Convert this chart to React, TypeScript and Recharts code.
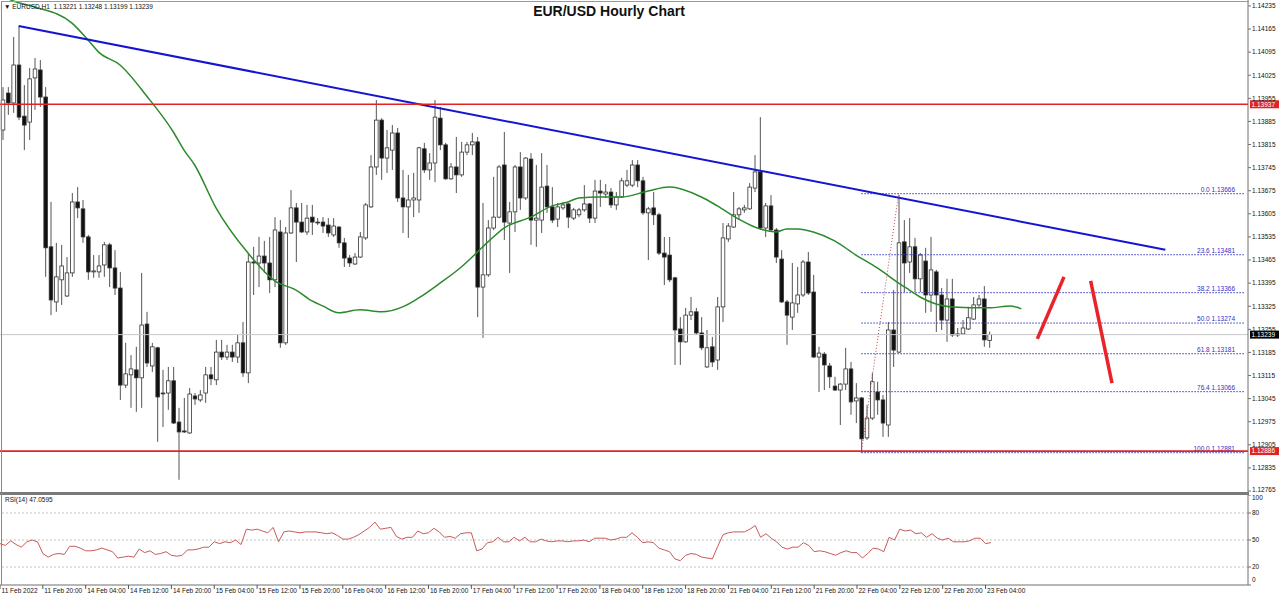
import React from 'react';
import { ComposedChart, LineChart, Bar, Line, XAxis, YAxis, ReferenceLine } from 'recharts';

const opens = [
  1.13859, 1.13971, 1.13941, 1.14056, 1.13901, 1.13883, 1.14017, 1.14041, 1.13959, 1.13505,
  1.13338, 1.13405, 1.13356, 1.13426, 1.13641, 1.1362, 1.13535, 1.13429, 1.13429, 1.1345,
  1.13511, 1.13441, 1.1338, 1.13086, 1.13117, 1.13132, 1.13108, 1.13271, 1.13144, 1.13199,
  1.13062, 1.13062, 1.13099, 1.12974, 1.12947, 1.12941, 1.13053, 1.13041, 1.13062, 1.13117,
  1.13102, 1.13186, 1.13171, 1.13186, 1.13171, 1.13214, 1.13123, 1.13459, 1.13456, 1.13477,
  1.13456, 1.13405, 1.1355, 1.13214, 1.13547, 1.13623, 1.1358, 1.1355, 1.13595, 1.1358,
  1.1358, 1.13571, 1.13541, 1.13565, 1.13517, 1.13471, 1.13453, 1.13474, 1.13532, 1.13626,
  1.13747, 1.13889, 1.13774, 1.13798, 1.1385, 1.13653, 1.13626, 1.13647, 1.13647, 1.13802,
  1.13738, 1.13759, 1.13895, 1.13814, 1.13711, 1.13747, 1.13723, 1.13792, 1.13814, 1.13823,
  1.13383, 1.1342, 1.13562, 1.13595, 1.13753, 1.13577, 1.13611, 1.13747, 1.13653, 1.13771,
  1.13586, 1.13586, 1.13689, 1.13626, 1.13589, 1.13623, 1.13635, 1.13592, 1.13602, 1.13617,
  1.13635, 1.13592, 1.13674, 1.13665, 1.13671, 1.13632, 1.13656, 1.13692, 1.13692, 1.13753,
  1.13705, 1.13608, 1.13623, 1.13602, 1.13486, 1.1348, 1.13411, 1.13256, 1.13217, 1.13298,
  1.13308, 1.13244, 1.13141, 1.13202, 1.13162, 1.13323, 1.13529, 1.13565, 1.13602, 1.13617,
  1.1362, 1.13683, 1.13732, 1.13562, 1.13629, 1.13556, 1.13468, 1.13338, 1.13292, 1.13332,
  1.13359, 1.13459, 1.13368, 1.13171, 1.1318, 1.13144, 1.13083, 1.13071, 1.13089, 1.13135,
  1.13038, 1.13047, 1.12926, 1.12986, 1.13065, 1.13041, 1.12965, 1.13253, 1.13186, 1.1352,
  1.13459, 1.13505, 1.13408, 1.13462, 1.13359, 1.13429, 1.13359, 1.13283, 1.13347, 1.13241,
  1.13241, 1.13256, 1.13286, 1.13329, 1.13347, 1.13221,
];

const highs = [
  1.13989, 1.13989, 1.14141, 1.14174, 1.13995, 1.14047, 1.14077, 1.14071, 1.13989, 1.13641,
  1.13517, 1.13511, 1.13474, 1.13668, 1.13686, 1.13647, 1.13541, 1.1348, 1.1348, 1.1352,
  1.13517, 1.13495, 1.13429, 1.13214, 1.13177, 1.13202, 1.13426, 1.13308, 1.13214, 1.13202,
  1.13132, 1.13141, 1.13141, 1.13017, 1.13047, 1.13077, 1.13062, 1.13071, 1.13141, 1.13141,
  1.13223, 1.13223, 1.13208, 1.13208, 1.13238, 1.13277, 1.13486, 1.13505, 1.13535, 1.13523,
  1.13535, 1.13595, 1.13586, 1.13565, 1.13677, 1.13638, 1.13638, 1.13632, 1.13632, 1.13592,
  1.13595, 1.13592, 1.13592, 1.13568, 1.13532, 1.1348, 1.13486, 1.1355, 1.13638, 1.13783,
  1.1395, 1.13895, 1.13859, 1.13874, 1.13865, 1.13738, 1.13723, 1.13729, 1.13808, 1.1382,
  1.13789, 1.1395, 1.13929, 1.1382, 1.13759, 1.13838, 1.13823, 1.13823, 1.1385, 1.13838,
  1.13638, 1.13586, 1.13717, 1.13753, 1.13853, 1.13641, 1.13753, 1.13792, 1.13777, 1.13789,
  1.13753, 1.13789, 1.13753, 1.13686, 1.13638, 1.13641, 1.13638, 1.13623, 1.13623, 1.13692,
  1.13638, 1.13708, 1.13708, 1.13695, 1.13683, 1.13671, 1.13714, 1.13738, 1.13768, 1.13768,
  1.13717, 1.13626, 1.13671, 1.13608, 1.13535, 1.13535, 1.13414, 1.13292, 1.1332, 1.13353,
  1.1332, 1.13292, 1.13253, 1.13232, 1.13353, 1.13577, 1.13577, 1.13671, 1.13626, 1.13632,
  1.13698, 1.13783, 1.13898, 1.13638, 1.13662, 1.13562, 1.13495, 1.13344, 1.13456, 1.13444,
  1.13465, 1.13489, 1.1342, 1.13202, 1.13186, 1.13153, 1.13111, 1.13092, 1.13199, 1.13156,
  1.13092, 1.1305, 1.13026, 1.13123, 1.13096, 1.13056, 1.13277, 1.13374, 1.13662, 1.13586,
  1.13592, 1.13532, 1.13486, 1.13502, 1.13535, 1.13435, 1.1338, 1.13408, 1.13408, 1.13259,
  1.13283, 1.13323, 1.13353, 1.13359, 1.13386, 1.13248,
];

const lows = [
  1.13829, 1.13905, 1.13911, 1.13889, 1.13798, 1.13829, 1.1392, 1.13929, 1.13414, 1.13298,
  1.13308, 1.13329, 1.13353, 1.13414, 1.13592, 1.13517, 1.13405, 1.13411, 1.13411, 1.13414,
  1.13383, 1.13359, 1.13041, 1.13077, 1.13017, 1.13005, 1.13017, 1.13141, 1.13126, 1.12914,
  1.12959, 1.13011, 1.12968, 1.12799, 1.12941, 1.12938, 1.13026, 1.13035, 1.13032, 1.13086,
  1.13086, 1.13162, 1.13162, 1.13156, 1.13153, 1.13111, 1.13092, 1.13359, 1.13383, 1.13426,
  1.13365, 1.13383, 1.13199, 1.13208, 1.13544, 1.13459, 1.13547, 1.13541, 1.13541, 1.13571,
  1.13547, 1.13535, 1.13535, 1.13502, 1.13444, 1.13444, 1.1345, 1.13471, 1.13526, 1.13623,
  1.13723, 1.13708, 1.13729, 1.13738, 1.13641, 1.13547, 1.13532, 1.13595, 1.13608, 1.13729,
  1.13708, 1.13701, 1.13798, 1.13708, 1.13708, 1.13668, 1.13717, 1.13783, 1.13783, 1.13292,
  1.13229, 1.13414, 1.13556, 1.13592, 1.13526, 1.13426, 1.1355, 1.13617, 1.13647, 1.13511,
  1.13505, 1.13547, 1.13608, 1.13577, 1.13565, 1.13617, 1.13562, 1.13586, 1.13595, 1.13611,
  1.13577, 1.13577, 1.13626, 1.13653, 1.13623, 1.13617, 1.13653, 1.13686, 1.13686, 1.13686,
  1.13602, 1.13465, 1.13571, 1.1348, 1.13389, 1.13398, 1.13147, 1.13147, 1.13214, 1.13283,
  1.13238, 1.13192, 1.13138, 1.13141, 1.13132, 1.13277, 1.1352, 1.13562, 1.13586, 1.13608,
  1.13617, 1.13671, 1.13556, 1.13535, 1.1355, 1.13456, 1.13335, 1.13208, 1.13253, 1.13305,
  1.13353, 1.13359, 1.13168, 1.13065, 1.13071, 1.13077, 1.13068, 1.12965, 1.13071, 1.12996,
  1.12971, 1.12883, 1.1292, 1.1298, 1.12996, 1.12929, 1.12929, 1.13141, 1.13183, 1.13368,
  1.13426, 1.13368, 1.13368, 1.13305, 1.13308, 1.13247, 1.13253, 1.13217, 1.13232, 1.13232,
  1.13238, 1.13253, 1.13283, 1.13323, 1.13202, 1.13199,
];

const closes = [
  1.1395, 1.13941, 1.14056, 1.13898, 1.13874, 1.14014, 1.14044, 1.13959, 1.13502, 1.13344,
  1.13414, 1.13447, 1.13426, 1.13641, 1.13623, 1.13535, 1.13429, 1.13432, 1.13447, 1.13511,
  1.13441, 1.1338, 1.13086, 1.1312, 1.13135, 1.13108, 1.13268, 1.13153, 1.13202, 1.1305,
  1.13061, 1.13099, 1.12971, 1.12944, 1.12944, 1.13059, 1.13044, 1.13056, 1.13117, 1.13105,
  1.13186, 1.13171, 1.13186, 1.13171, 1.13214, 1.13123, 1.13459, 1.13456, 1.13477, 1.13456,
  1.13405, 1.13556, 1.13214, 1.13547, 1.13623, 1.1358, 1.1355, 1.13592, 1.1358, 1.13579,
  1.13568, 1.13547, 1.13568, 1.13517, 1.13471, 1.13456, 1.13474, 1.13535, 1.13632, 1.13747,
  1.13889, 1.13774, 1.13805, 1.1385, 1.13653, 1.13626, 1.13647, 1.13653, 1.13805, 1.13738,
  1.13759, 1.13898, 1.13814, 1.13711, 1.13747, 1.13723, 1.13792, 1.13814, 1.13823, 1.13383,
  1.1342, 1.13562, 1.13595, 1.13747, 1.1358, 1.13611, 1.13747, 1.13653, 1.13774, 1.13586,
  1.13592, 1.13686, 1.13626, 1.13586, 1.13626, 1.13632, 1.13595, 1.13617, 1.13617, 1.13635,
  1.13592, 1.13674, 1.13668, 1.13671, 1.13632, 1.13656, 1.13705, 1.13705, 1.13753, 1.13705,
  1.13608, 1.1362, 1.13602, 1.13486, 1.13474, 1.13405, 1.13253, 1.13217, 1.13298, 1.13308,
  1.13244, 1.13199, 1.13199, 1.13156, 1.13323, 1.13532, 1.13568, 1.13602, 1.1362, 1.13623,
  1.13686, 1.13732, 1.13562, 1.13629, 1.13556, 1.13474, 1.13338, 1.13298, 1.13335, 1.13359,
  1.13459, 1.13365, 1.13171, 1.13183, 1.13147, 1.13111, 1.13071, 1.13089, 1.13135, 1.13035,
  1.13047, 1.12923, 1.12986, 1.13096, 1.13041, 1.12971, 1.13253, 1.13192, 1.13517, 1.13456,
  1.13505, 1.13408, 1.1348, 1.13359, 1.13435, 1.13359, 1.13283, 1.13347, 1.13238, 1.13238,
  1.13259, 1.1329, 1.13329, 1.13347, 1.13223, 1.13239,
];

const rsiValues = [
  46, 44, 49, 45, 42, 48, 50, 48, 35, 31,
  34, 35, 34, 43, 43, 41, 38, 38, 39, 41,
  39, 37, 30, 31, 32, 31, 40, 36, 38, 34,
  35, 37, 33, 32, 33, 39, 39, 40, 42, 42,
  48, 46, 48, 47, 50, 45, 62, 61, 62, 60,
  58, 64, 48, 59, 60, 59, 58, 59, 59, 59,
  58, 57, 58, 55, 51, 51, 53, 56, 60, 64,
  70, 62, 63, 64, 54, 51, 53, 53, 60, 57,
  58, 63, 59, 53, 54, 52, 57, 58, 58, 38,
  40, 47, 48, 53, 48, 48, 53, 49, 53, 48,
  48, 51, 49, 48, 49, 49, 48, 49, 49, 50,
  48, 52, 52, 52, 50, 51, 53, 53, 58, 53,
  47, 48, 47, 41, 39, 37, 29, 27, 33, 35,
  34, 31, 30, 29, 43, 56, 58, 59, 59, 59,
  62, 66, 53, 57, 52, 48, 42, 40, 42, 42,
  47, 44, 37, 38, 37, 35, 33, 36, 38, 36,
  36, 30, 35, 41, 40, 37, 53, 50, 62, 60,
  61, 57, 58, 53, 57, 52, 50, 52, 48, 48,
  48, 49, 52, 52, 46, 47.0595,
];

const maBars = [0, 2, 6, 13, 16, 18, 22, 27, 32, 34, 36, 40, 46, 51, 55, 58, 60, 63, 67, 71, 75, 78, 82, 86, 89, 91, 94, 99, 103, 106, 108, 112, 116, 121, 125, 131, 134, 138, 141, 145, 147, 149, 152, 156, 160, 164, 168, 170, 172, 175, 178, 185, 189, 191];
const maPrices = [1.14265, 1.1425, 1.14232, 1.14183, 1.14132, 1.14095, 1.14056, 1.13962, 1.13853, 1.13798, 1.13753, 1.13623, 1.13486, 1.13402, 1.13374, 1.13341, 1.13326, 1.13305, 1.13314, 1.13308, 1.13323, 1.1335, 1.13395, 1.13444, 1.13489, 1.1352, 1.13562, 1.13595, 1.13629, 1.13641, 1.13653, 1.13656, 1.13656, 1.13674, 1.13686, 1.13656, 1.13629, 1.13589, 1.13565, 1.1355, 1.13559, 1.13559, 1.1355, 1.13523, 1.1348, 1.13441, 1.13395, 1.13374, 1.13353, 1.13332, 1.13323, 1.1332, 1.13326, 1.13317];

const dateLabels = ['11 Feb 2022', '11 Feb 20:00', '14 Feb 04:00', '14 Feb 12:00', '14 Feb 20:00', '15 Feb 04:00', '15 Feb 12:00', '15 Feb 20:00', '16 Feb 04:00', '16 Feb 12:00', '16 Feb 20:00', '17 Feb 04:00', '17 Feb 12:00', '17 Feb 20:00', '18 Feb 04:00', '18 Feb 12:00', '18 Feb 20:00', '21 Feb 04:00', '21 Feb 12:00', '21 Feb 20:00', '22 Feb 04:00', '22 Feb 12:00', '22 Feb 20:00', '23 Feb 04:00'];
const dateTickBars = [0, 8, 16, 24, 32, 40, 48, 56, 64, 72, 80, 88, 96, 104, 112, 120, 128, 136, 144, 152, 160, 168, 176, 184];

const priceTicks = [1.14235, 1.14165, 1.14095, 1.14025, 1.13955, 1.13885, 1.13815, 1.13745, 1.13675, 1.13605, 1.13535, 1.13465, 1.13395, 1.13325, 1.13255, 1.13185, 1.13115, 1.13045, 1.12975, 1.12905, 1.12835, 1.12765];
const priceDomain = [1.12762, 1.14253];
const rsiTicks = [0, 20, 50, 80, 100];
const rsiLevels = [80, 50, 20];

const fibPercents = ['0.0', '23.6', '38.2', '50.0', '61.8', '76.4', '100.0'];
const fibPrices = [1.13666, 1.13481, 1.13366, 1.13274, 1.13181, 1.13066, 1.12881];
const fibAnchorBars = [161, 168];
const fibAnchorPrices = [1.12881, 1.13666];

const redLevels = [1.13937, 1.12886];
const lastPrice = 1.13239;
const trendBars = [3, 218];
const trendPrices = [1.14174, 1.13496];
const arrowUpBars = [194, 199];
const arrowUpPrices = [1.13226, 1.13414];
const arrowDownBars = [204, 208];
const arrowDownPrices = [1.13402, 1.13092];

const SLOTS = 234;
const FONT = '"Liberation Sans", Arial, sans-serif';

const maByBar: Record<number, number> = {};
maBars.forEach((b, k) => {
  maByBar[b] = maPrices[k];
});

const rows = Array.from({ length: SLOTS }, (_, i) => {
  const has = i < opens.length;
  return {
    i,
    o: has ? opens[i] : null,
    h: has ? highs[i] : null,
    l: has ? lows[i] : null,
    c: has ? closes[i] : null,
    range: has ? [lows[i], highs[i]] : null,
    rsi: has ? rsiValues[i] : null,
    ma: maByBar[i] ?? null,
  };
});

const Candle = (props: any) => {
  const { x, y, width, height, payload } = props;
  if (!payload || payload.o == null || x == null || y == null) return null;
  const { o, h, l, c } = payload;
  const top0 = height < 0 ? y + height : y;
  const hh = Math.abs(height || 0);
  const cx = x + width / 2;
  const span = h - l;
  const py = (v: number) => (span === 0 ? top0 : top0 + ((h - v) / span) * hh);
  const bTop = py(Math.max(o, c));
  const bBot = py(Math.min(o, c));
  const bull = c >= o;
  const bw = 3.6;
  return (
    <g>
      <line x1={cx} x2={cx} y1={top0} y2={top0 + hh} stroke="#555555" strokeWidth={1} />
      <rect
        x={cx - bw / 2}
        y={bTop}
        width={bw}
        height={Math.max(bBot - bTop, 0.9)}
        fill={bull ? '#ffffff' : '#111111'}
        stroke="#333333"
        strokeWidth={0.8}
      />
    </g>
  );
};

const fibLabel = (text: string) => (props: any) => {
  const vb = props.viewBox || {};
  const xEnd = (vb.x ?? 0) + (vb.width ?? 0);
  return (
    <text x={xEnd - 13} y={(vb.y ?? 0) - 2} textAnchor="end" fontSize={6.5} fill="#3030cc" fontFamily={FONT}>
      {text}
    </text>
  );
};

const priceBox = (text: string, bg: string) => (props: any) => {
  const vb = props.viewBox || {};
  const x = (vb.x ?? 0) + (vb.width ?? 0) + 2;
  const y = vb.y ?? 0;
  return (
    <g>
      <rect x={x} y={y - 4} width={29} height={8} fill={bg} />
      <text x={x + 1.5} y={y + 2.4} fontSize={6.5} fill="#ffffff" fontFamily={FONT}>
        {text}
      </text>
    </g>
  );
};

const PriceTick = (props: any) => {
  const { x, y, payload } = props;
  const v = Number(payload.value);
  const yy = v === priceTicks[priceTicks.length - 1] ? y - 1.5 : y;
  return (
    <text x={x} y={yy} dy="0.355em" fontSize={6.5} fill="#111" fontFamily={FONT} textAnchor="start">
      {v.toFixed(5)}
    </text>
  );
};

const RsiTick = (props: any) => {
  const { x, y, payload } = props;
  const v = payload.value;
  const yy = v === 100 ? y + 3 : v === 0 ? y - 5 : y;
  return (
    <text x={x} y={yy} dy="0.355em" fontSize={6.5} fill="#111" fontFamily={FONT} textAnchor="start">
      {String(v)}
    </text>
  );
};

const DateTick = (props: any) => {
  const { x, y, payload } = props;
  const idx = dateTickBars.indexOf(Number(payload.value));
  return (
    <text x={x + 1.5} y={y + 2.5} fontSize={6.5} fill="#111" fontFamily={FONT} textAnchor="start">
      {idx >= 0 ? dateLabels[idx] : ''}
    </text>
  );
};

export default function App() {
  return (
    <div
      style={{
        position: 'absolute',
        left: 0,
        top: 0,
        width: 1280,
        height: 599,
        background: '#ffffff',
        fontFamily: FONT,
        overflow: 'hidden',
      }}
    >
      <div style={{ position: 'absolute', left: 0, top: 495 }}>
        <LineChart width={1280} height={104} data={rows} margin={{ top: 0, right: 0, bottom: 0, left: 0 }}>
          <XAxis
            dataKey="i"
            type="category"
            ticks={dateTickBars}
            interval={0}
            height={14}
            tick={<DateTick />}
            tickSize={4}
            tickMargin={1}
            axisLine={{ stroke: '#707070' }}
            tickLine={{ stroke: '#555' }}
          />
          <YAxis
            orientation="right"
            width={32}
            type="number"
            domain={[0, 100]}
            ticks={rsiTicks}
            interval={0}
            tick={<RsiTick />}
            tickSize={3}
            tickMargin={1}
            axisLine={{ stroke: '#707070' }}
            tickLine={{ stroke: '#707070' }}
          />
          {rsiLevels.map((v) => (
            <ReferenceLine key={'r' + v} y={v} stroke="#c4c4c4" strokeDasharray="2 2" />
          ))}
          <Line dataKey="rsi" type="linear" dot={false} stroke="#c85a5a" strokeWidth={1} isAnimationActive={false} />
        </LineChart>
      </div>

      <div style={{ position: 'absolute', left: 0, top: 492, width: 1249, height: 3, background: '#7a7a7a' }} />

      <div style={{ position: 'absolute', left: 0, top: 0 }}>
        <ComposedChart
          width={1280}
          height={492}
          data={rows}
          margin={{ top: 0, right: 0, bottom: 0, left: 0 }}
          barSize={4}
          style={{ overflow: 'visible' }}
        >
          <XAxis dataKey="i" type="category" hide height={0} />
          <YAxis
            orientation="right"
            width={32}
            type="number"
            domain={priceDomain}
            allowDataOverflow
            ticks={priceTicks}
            interval={0}
            tick={<PriceTick />}
            tickSize={3}
            tickMargin={1}
            axisLine={{ stroke: '#707070' }}
            tickLine={{ stroke: '#707070' }}
          />
          <ReferenceLine y={lastPrice} stroke="#c8c8c8" strokeWidth={1} label={priceBox('1.13239', '#000000')} />
          {fibPrices.map((p, k) => (
            <ReferenceLine
              key={'fib' + k}
              segment={[
                { x: fibAnchorBars[0], y: p },
                { x: SLOTS - 1, y: p },
              ]}
              stroke="#3434c4"
              strokeWidth={1}
              strokeDasharray="1.5 1.5"
            />
          ))}
          {fibPrices.map((p, k) => (
            <ReferenceLine key={'fibl' + k} y={p} stroke="none" label={fibLabel(fibPercents[k] + ' ' + p.toFixed(5))} />
          ))}
          <Bar dataKey="range" shape={<Candle />} isAnimationActive={false} />
          <Line
            dataKey="ma"
            type="monotone"
            connectNulls
            dot={false}
            stroke="#2b8a2b"
            strokeWidth={1.5}
            isAnimationActive={false}
          />
          <ReferenceLine
            segment={[
              { x: trendBars[0], y: trendPrices[0] },
              { x: trendBars[1], y: trendPrices[1] },
            ]}
            stroke="#1414d2"
            strokeWidth={2}
          />
          <ReferenceLine
            segment={[
              { x: fibAnchorBars[0], y: fibAnchorPrices[0] },
              { x: fibAnchorBars[1], y: fibAnchorPrices[1] },
            ]}
            stroke="#c04848"
            strokeWidth={1}
            strokeDasharray="1 2"
          />
          <ReferenceLine y={redLevels[0]} stroke="#e02424" strokeWidth={1.6} label={priceBox('1.13937', '#e02424')} />
          <ReferenceLine y={redLevels[1]} stroke="#e02424" strokeWidth={1.6} label={priceBox('1.12886', '#e02424')} />
          <ReferenceLine
            segment={[
              { x: arrowUpBars[0], y: arrowUpPrices[0] },
              { x: arrowUpBars[1], y: arrowUpPrices[1] },
            ]}
            stroke="#e8232a"
            strokeWidth={3.5}
          />
          <ReferenceLine
            segment={[
              { x: arrowDownBars[0], y: arrowDownPrices[0] },
              { x: arrowDownBars[1], y: arrowDownPrices[1] },
            ]}
            stroke="#e8232a"
            strokeWidth={3.5}
          />
        </ComposedChart>
      </div>

      <div style={{ position: 'absolute', left: 1, top: 1, width: 1, height: 584, background: '#8a8a8a' }} />
      <div style={{ position: 'absolute', left: 1, top: 1, width: 1248, height: 1, background: '#9a9a9a' }} />

      <div
        style={{
          position: 'absolute',
          left: 4,
          top: 3,
          fontSize: 6.5,
          color: '#111',
          whiteSpace: 'pre',
          lineHeight: '8px',
        }}
      >
        {'\u25BC EURUSD,H1  1.13221 1.13248 1.13199 1.13239'}
      </div>
      <div
        style={{
          position: 'absolute',
          left: 0,
          width: 1218,
          top: 2,
          textAlign: 'center',
          fontSize: 14,
          fontWeight: 'bold',
          color: '#111',
          lineHeight: '18px',
        }}
      >
        EUR/USD Hourly Chart
      </div>
      <div
        style={{
          position: 'absolute',
          left: 5,
          top: 496,
          fontSize: 6.5,
          color: '#111',
          lineHeight: '8px',
          whiteSpace: 'pre',
        }}
      >
        RSI(14) 47.0595
      </div>
    </div>
  );
}
